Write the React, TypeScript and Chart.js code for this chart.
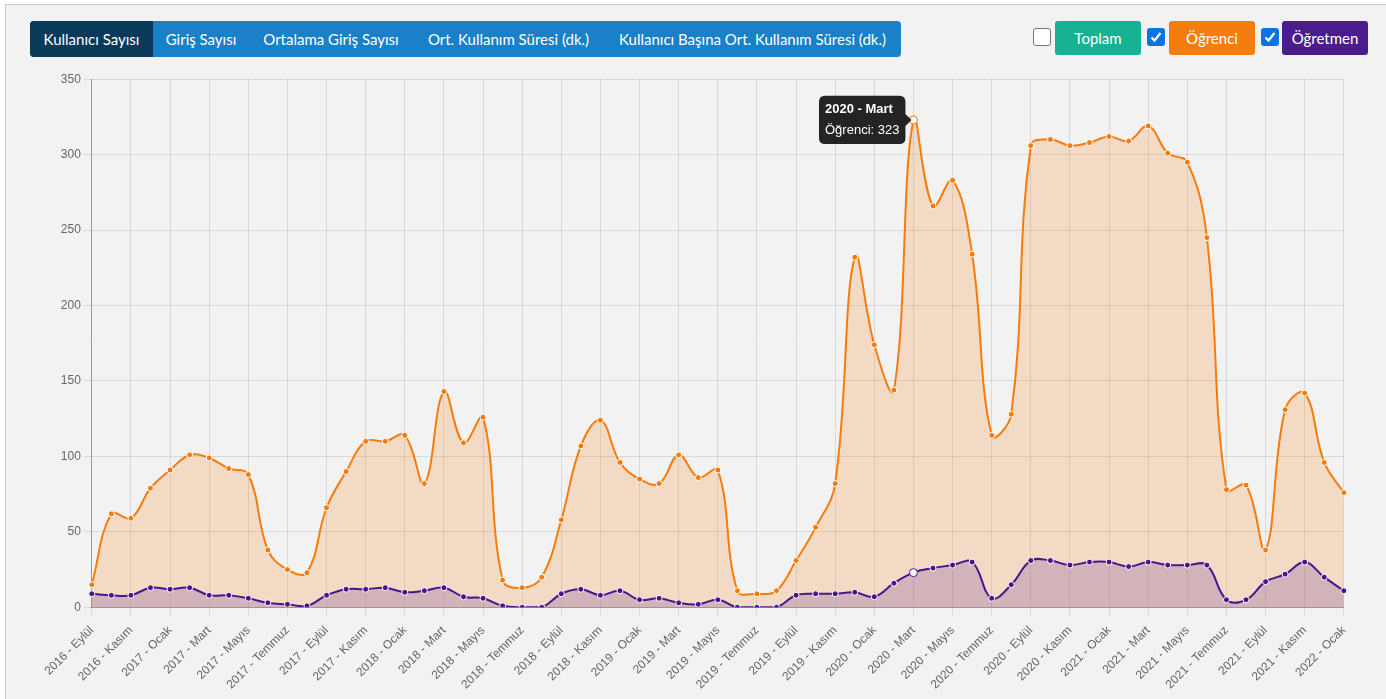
import React, { useEffect, useRef } from "react";
import { Chart, registerables } from "chart.js";

Chart.register(...registerables);

const monthNames = ["Ocak", "Şubat", "Mart", "Nisan", "Mayıs", "Haziran", "Temmuz", "Ağustos", "Eylül", "Ekim", "Kasım", "Aralık"];
const startYear = 2016;
const startMonth = 8; // Eylül
const monthCount = 65;
const labels: string[] = [];
for (let i = 0; i < monthCount; i++) {
  const m = startMonth + i;
  labels.push(`${startYear + Math.floor(m / 12)} - ${monthNames[m % 12]}`);
}

const ogrenci = [
  15, 62, 59, 79, 91, 101, 99, 92, 88, 38, 25, 23, 66, 90, 110, 110, 114, 82, 143, 109,
  126, 18, 13, 20, 58, 107, 124, 96, 85, 82, 101, 86, 91, 11, 9, 11, 31, 53, 82, 232, 174,
  144, 323, 266, 283, 234, 114, 128, 306, 310, 306, 308, 312, 309, 319, 301, 295, 245, 78, 81, 38, 131, 142, 96, 76,
];
const ogretmen = [
  9, 8, 8, 13, 12, 13, 8, 8, 6, 3, 2, 1, 8, 12, 12, 13, 10, 11, 13, 7,
  6, 1, 0, 0, 9, 12, 8, 11, 5, 6, 3, 2, 5, 0, 0, 0, 8, 9, 9, 10, 7,
  16, 23, 26, 28, 30, 6, 15, 31, 31, 28, 30, 30, 27, 30, 28, 28, 28, 5, 5, 17, 22, 30, 20, 11,
];
const tabs = ["Kullanıcı Sayısı", "Giriş Sayısı", "Ortalama Giriş Sayısı", "Ort. Kullanım Süresi (dk.)", "Kullanıcı Başına Ort. Kullanım Süresi (dk.)"];
const tabWidths = [123, 96, 164, 191, 297];
const activeIndex = 42; // 2020 - Mart

const ORANGE = "#f77b0b";
const PURPLE = "#4a148c";
const TICK_FONT = "'Liberation Sans', Arial, sans-serif";

function CheckBox({ checked, left }: { checked: boolean; left: number }) {
  return (
    <div
      style={{
        position: "absolute",
        left,
        top: 28,
        width: 18,
        height: 18,
        boxSizing: "border-box",
        borderRadius: 3,
        border: checked ? "none" : "1px solid #767676",
        background: checked ? "#0b74e5" : "#fff",
        display: "flex",
        alignItems: "center",
        justifyContent: "center",
      }}
    >
      {checked && (
        <svg width="14" height="14" viewBox="0 0 14 14">
          <path d="M2.5 7.5 L5.5 10.5 L11.5 3" stroke="#fff" strokeWidth="2.2" fill="none" />
        </svg>
      )}
    </div>
  );
}

function Btn({ text, left, width, bg }: { text: string; left: number; width: number; bg: string }) {
  return (
    <div
      style={{
        position: "absolute",
        left,
        top: 21,
        width,
        height: 34,
        background: bg,
        color: "#fff",
        borderRadius: 3,
        display: "flex",
        alignItems: "center",
        justifyContent: "center",
        fontSize: 15,
        fontFamily: "Lato, 'Open Sans', sans-serif",
      }}
    >
      {text}
    </div>
  );
}

export default function App() {
  const canvasRef = useRef<HTMLCanvasElement | null>(null);

  useEffect(() => {
    if (!canvasRef.current) return;
    const chart = new Chart(canvasRef.current, {
      type: "line",
      data: {
        labels,
        datasets: [
          {
            label: "Öğrenci",
            data: ogrenci,
            borderColor: ORANGE,
            backgroundColor: "rgba(245,124,15,0.2)",
            fill: "origin",
            tension: 0.4,
            borderWidth: 2,
            pointRadius: 3,
            pointBackgroundColor: ORANGE,
            pointBorderColor: "#fff",
            pointBorderWidth: 1,
            pointHoverRadius: 4,
            pointHoverBackgroundColor: "#fff",
            pointHoverBorderColor: ORANGE,
            pointHoverBorderWidth: 1,
            order: 2,
          },
          {
            label: "Öğretmen",
            data: ogretmen,
            borderColor: PURPLE,
            backgroundColor: "rgba(75,20,140,0.2)",
            fill: "origin",
            tension: 0.4,
            borderWidth: 2,
            pointRadius: 3,
            pointBackgroundColor: PURPLE,
            pointBorderColor: "#fff",
            pointBorderWidth: 1,
            pointHoverRadius: 4,
            pointHoverBackgroundColor: "#fff",
            pointHoverBorderColor: PURPLE,
            pointHoverBorderWidth: 1,
            order: 1,
          },
        ],
      },
      options: {
        animation: false,
        responsive: false,
        maintainAspectRatio: false,
        layout: { padding: { top: 5, right: 6, left: 0, bottom: 0 } },
        events: [],
        plugins: {
          legend: { display: false },
          tooltip: {
            enabled: true,
            xAlign: "right",
            yAlign: "center",
            displayColors: false,
            backgroundColor: "rgba(0,0,0,0.85)",
            titleFont: { family: TICK_FONT, size: 13, weight: "bold" },
            bodyFont: { family: TICK_FONT, size: 13 },
            padding: 6,
            cornerRadius: 6,
            caretSize: 6,
            titleMarginBottom: 5,
            filter: (item: any) => item.datasetIndex === 0,
          },
        },
        scales: {
          x: {
            grid: { color: "rgba(0,0,0,0.1)", tickLength: 8 },
            border: { color: "rgba(0,0,0,0.3)" },
            ticks: {
              autoSkip: false,
              minRotation: 45,
              maxRotation: 45,
              padding: 8,
              color: "#666",
              font: { family: TICK_FONT, size: 12 },
              callback: (_v: any, idx: number) => (idx % 2 === 0 ? labels[idx] : null),
            },
          },
          y: {
            min: 0,
            max: 350,
            grid: { color: "rgba(0,0,0,0.1)", tickLength: 8 },
            border: { color: "rgba(0,0,0,0.3)" },
            ticks: {
              stepSize: 50,
              color: "#666",
              font: { family: TICK_FONT, size: 12 },
            },
          },
        },
      },
    });
    chart.setActiveElements([
      { datasetIndex: 0, index: activeIndex },
      { datasetIndex: 1, index: activeIndex },
    ]);
    const meta = chart.getDatasetMeta(0).data[activeIndex] as any;
    chart.tooltip?.setActiveElements([{ datasetIndex: 0, index: activeIndex }], { x: meta.x, y: meta.y });
    chart.update();
    return () => chart.destroy();
  }, []);

  return (
    <div style={{ position: "fixed", left: 0, top: 0, width: 1386, height: 699, background: "#fff", overflow: "hidden" }}>
      <div
        style={{
          position: "absolute",
          left: 5,
          top: 4,
          width: 1381,
          height: 695,
          background: "#f2f2f2",
          borderTop: "1px solid #c8c8c8",
          borderLeft: "1px solid #c8c8c8",
        }}
      />
      <div
        style={{
          position: "absolute",
          left: 30,
          top: 21,
          width: 871,
          height: 36,
          background: "#1a80c8",
          borderRadius: 4,
          overflow: "hidden",
          display: "flex",
        }}
      >
        {tabs.map((t, i) => (
          <div
            key={t}
            style={{
              width: tabWidths[i],
              height: 36,
              background: i === 0 ? "#0a3a5a" : "transparent",
              color: "#fff",
              display: "flex",
              alignItems: "center",
              justifyContent: "center",
              fontSize: 15,
              fontFamily: "Lato, 'Open Sans', sans-serif",
              whiteSpace: "nowrap",
            }}
          >
            {t}
          </div>
        ))}
      </div>
      <CheckBox checked={false} left={1033} />
      <Btn text="Toplam" left={1055} width={86} bg="#16b293" />
      <CheckBox checked={true} left={1147} />
      <Btn text="Öğrenci" left={1169} width={86} bg="#f57c0f" />
      <CheckBox checked={true} left={1261} />
      <Btn text="Öğretmen" left={1282} width={86} bg="#4b1d8c" />
      <canvas
        ref={canvasRef}
        width={1323}
        height={631}
        style={{ position: "absolute", left: 39, top: 69, width: 1323, height: 631 }}
      />
    </div>
  );
}
